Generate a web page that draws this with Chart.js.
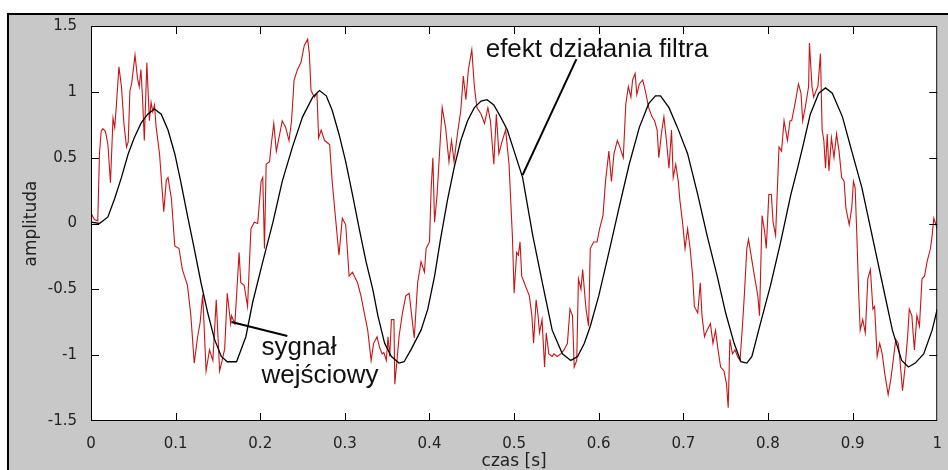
<!DOCTYPE html>
<html lang="pl">
<head>
<meta charset="UTF-8" />
<title>Sygnał wejściowy i efekt działania filtra</title>
<style>
  html, body { margin: 0; padding: 0; background: #fff; }
  #wrap { position: relative; width: 948px; height: 470px; overflow: hidden; }
  canvas { display: block; }
</style>
</head>
<body>
<div id="wrap"><canvas id="chart" width="948" height="470"></canvas></div>
<script src="https://cdn.jsdelivr.net/npm/chart.js"></script>
<script>
  // sygnał wejściowy (czerwony) - czas [s] i amplituda
  const redT = [
    0.000, 0.004, 0.008, 0.010, 0.012, 0.014, 0.017, 0.020, 0.023, 0.026, 0.028, 0.030, 0.033, 0.036, 0.039,
    0.042, 0.044, 0.046, 0.048, 0.052, 0.055, 0.057, 0.059, 0.061, 0.063, 0.066, 0.069, 0.071, 0.073, 0.075,
    0.077, 0.081, 0.083, 0.086, 0.089, 0.091, 0.095, 0.099, 0.104, 0.108, 0.114, 0.118, 0.122, 0.126, 0.129,
    0.132, 0.136, 0.140, 0.144, 0.148, 0.152, 0.155, 0.158, 0.161, 0.165,
    0.166, 0.170, 0.172, 0.175, 0.177, 0.181, 0.185, 0.189, 0.193, 0.197, 0.201, 0.203, 0.205, 0.207, 0.211,
    0.213, 0.216, 0.219, 0.223, 0.226, 0.230, 0.234, 0.237, 0.240, 0.244, 0.248, 0.252, 0.256, 0.258, 0.260,
    0.264, 0.267, 0.269, 0.272, 0.276, 0.282, 0.285, 0.289, 0.293, 0.297, 0.301, 0.305, 0.309, 0.315, 0.319,
    0.323, 0.327, 0.331, 0.334,
    0.338, 0.341, 0.344, 0.346, 0.349, 0.351, 0.353, 0.355, 0.358, 0.359, 0.362, 0.364, 0.368, 0.372, 0.376,
    0.380, 0.382, 0.386, 0.390, 0.394, 0.396, 0.400, 0.402, 0.404, 0.406, 0.409, 0.412, 0.415, 0.419, 0.423,
    0.426, 0.429, 0.433, 0.437, 0.440, 0.443, 0.446, 0.450, 0.453, 0.456, 0.461, 0.465, 0.469, 0.472, 0.476,
    0.479, 0.482, 0.486, 0.490, 0.494, 0.498, 0.500,
    0.503, 0.505, 0.507, 0.509, 0.512, 0.515, 0.518, 0.521, 0.523, 0.526, 0.528, 0.530, 0.533, 0.536, 0.538,
    0.541, 0.545, 0.547, 0.551, 0.555, 0.559, 0.563, 0.566, 0.569, 0.571, 0.574, 0.576, 0.579, 0.581, 0.585,
    0.588, 0.590, 0.594, 0.598, 0.601, 0.605, 0.608, 0.612, 0.615, 0.618, 0.622, 0.625, 0.629, 0.632, 0.635,
    0.638, 0.640, 0.643, 0.645, 0.648, 0.652, 0.655, 0.659, 0.663,
    0.666, 0.669, 0.671, 0.674, 0.677, 0.680, 0.683, 0.686, 0.688, 0.691, 0.694, 0.696, 0.699, 0.702, 0.705,
    0.708, 0.711, 0.713, 0.717, 0.720, 0.722, 0.725, 0.728, 0.732, 0.735, 0.738, 0.741, 0.744, 0.748, 0.751,
    0.753, 0.755, 0.758, 0.761, 0.764, 0.767, 0.770, 0.772, 0.775, 0.777, 0.780, 0.784, 0.788, 0.790, 0.793,
    0.796, 0.798, 0.801, 0.804, 0.806, 0.809, 0.813, 0.816, 0.819, 0.823, 0.826, 0.828, 0.832,
    0.836, 0.839, 0.841, 0.844, 0.848, 0.849, 0.852, 0.854, 0.857, 0.859, 0.862, 0.864, 0.866, 0.868, 0.870,
    0.872, 0.875, 0.878, 0.881, 0.884, 0.887, 0.890, 0.892, 0.896, 0.899, 0.901, 0.903, 0.905, 0.907, 0.909,
    0.912, 0.915, 0.918, 0.921, 0.924, 0.926, 0.929, 0.932, 0.935, 0.938, 0.942, 0.945, 0.947, 0.951, 0.954,
    0.956, 0.959, 0.962, 0.965, 0.967, 0.970, 0.973, 0.976, 0.979, 0.982, 0.985, 0.988, 0.992, 0.994, 0.996,
    0.998, 1.000
  ];
  const redV = [
    0.08, 0.03, 0.02, 0.53, 0.70, 0.72, 0.70, 0.60, 0.31, 0.80, 0.73, 0.90, 1.19, 1.04, 0.75,
    0.58, 0.62, 1.01, 1.06, 1.28, 1.10, 1.04, 1.17, 0.94, 0.63, 1.22, 0.78, 0.92, 0.85, 0.90,
    0.73, 0.53, 0.35, 0.09, 0.33, 0.35, 0.19, -0.17, -0.19, -0.35, -0.47, -0.70, -1.06, -0.86, -0.75,
    -0.54, -1.12, -0.96, -1.04, -0.58, -1.12, -1.04, -0.95, -0.53, -0.76,
    -0.70, -0.76, -0.55, -0.22, -0.45, -0.47, -0.63, -0.04, 0.01, 0.00, 0.32, 0.35, -0.19, 0.45, 0.47,
    0.60, 0.76, 0.55, 0.68, 0.78, 0.73, 0.63, 0.78, 1.09, 1.17, 1.22, 1.35, 1.40, 1.29, 1.01,
    0.96, 0.99, 0.65, 0.71, 0.63, 0.60, 0.32, 0.04, -0.24, 0.04, -0.01, -0.40, -0.37, -0.45, -0.55,
    -0.68, -0.81, -1.04, -0.91,
    -0.86, -0.94, -0.99, -0.98, -1.04, -0.86, -1.01, -0.73, -0.73, -1.22, -1.01, -0.86, -0.68, -0.55, -0.53,
    -0.76, -0.87, -0.45, -0.29, -0.37, -0.19, -0.14, 0.27, 0.50, 0.01, 0.22, 0.55, 0.88, 0.73, 0.47,
    0.63, 0.47, 0.68, 0.86, 1.12, 0.94, 1.17, 1.32, 1.04, 0.88, 0.83, 0.76, 0.88, 0.78, 0.45,
    0.83, 0.53, 0.63, 0.71, 0.45, -0.10, -0.53,
    -0.22, -0.24, -0.14, -0.40, -0.45, -0.50, -0.55, -0.70, -0.91, -0.58, -0.68, -0.83, -0.73, -1.09, -0.83,
    -0.99, -1.01, -0.99, -1.01, -0.99, -0.96, -0.91, -0.65, -0.70, -1.09, -1.04, -0.42, -0.50, -0.35, -0.65,
    -0.78, -0.19, -0.14, -0.14, -0.04, 0.06, 0.32, 0.55, 0.32, 0.53, 0.63, 0.58, 0.50, 0.91, 1.04,
    0.96, 1.09, 1.14, 0.98, 1.06, 1.09, 1.01, 0.88, 0.81,
    0.78, 0.71, 0.50, 0.68, 0.81, 0.63, 0.42, 0.71, 0.35, 0.45, 0.32, 0.17, 0.01, -0.19, -0.04,
    -0.19, -0.40, -0.63, -0.68, -0.45, -0.70, -0.86, -0.81, -0.76, -0.91, -0.81, -0.96, -1.09, -1.12, -1.22,
    -1.40, -0.88, -0.99, -0.96, -1.01, -1.04, -0.76, -0.55, -0.19, -0.12, -0.24, -0.40, -0.55, -0.70, 0.06,
    -0.06, -0.19, 0.22, 0.22, 0.01, -0.09, 0.58, 0.55, 0.78, 0.63, 0.78, 0.78, 0.91,
    1.06, 0.99, 0.78, 0.88, 1.04, 1.37, 1.04, 0.96, 1.01, 1.04, 1.29, 0.71, 0.63, 0.42, 0.68,
    0.40, 0.65, 0.50, 0.68, 0.55, 0.35, 0.32, 0.12, -0.01, 0.12, 0.32, 0.27, -0.09, -0.50, -0.81,
    -0.73, -0.83, -0.42, -0.35, -0.65, -0.63, -1.01, -0.91, -0.99, -1.14, -1.30, -1.19, -1.09, -0.88, -0.91,
    -1.04, -1.27, -1.09, -0.86, -0.65, -0.70, -0.96, -0.70, -0.78, -0.42, -0.40, -0.29, -0.19, -0.09, 0.04,
    0.00, -0.04
  ];

  // efekt działania filtra (czarny)
  const filtT = [
    0.000, 0.010, 0.020, 0.028, 0.036, 0.044, 0.051, 0.059, 0.067, 0.075, 0.083, 0.091, 0.099, 0.106, 0.114,
    0.122, 0.130, 0.138, 0.146, 0.154, 0.161, 0.172, 0.183, 0.191, 0.203, 0.215, 0.226, 0.238, 0.250, 0.262,
    0.270, 0.278, 0.285, 0.293, 0.301, 0.309, 0.317, 0.325, 0.333, 0.339, 0.347, 0.355, 0.364, 0.370, 0.378,
    0.390, 0.398, 0.406, 0.413, 0.421, 0.429, 0.437, 0.445, 0.453, 0.461, 0.468, 0.476, 0.484, 0.492, 0.500,
    0.510, 0.522, 0.534, 0.545, 0.557, 0.567, 0.575, 0.583, 0.590, 0.600, 0.612, 0.624, 0.636, 0.648, 0.659,
    0.667, 0.673, 0.683, 0.693, 0.705, 0.717, 0.728, 0.740, 0.750, 0.760, 0.768, 0.775, 0.781, 0.791, 0.803,
    0.815, 0.827, 0.835, 0.841, 0.850, 0.860, 0.868, 0.876, 0.888, 0.899, 0.911, 0.923, 0.935, 0.947, 0.958,
    0.966, 0.974, 0.984, 0.994, 1.000
  ];
  const filtV = [
    0.01, 0.00, 0.05, 0.19, 0.35, 0.53, 0.65, 0.76, 0.83, 0.87, 0.83, 0.71, 0.53, 0.32, 0.06,
    -0.19, -0.45, -0.68, -0.88, -1.01, -1.05, -1.05, -0.86, -0.60, -0.29, 0.01, 0.32, 0.58, 0.81, 0.96,
    1.01, 0.97, 0.86, 0.68, 0.47, 0.22, -0.04, -0.29, -0.50, -0.70, -0.91, -1.01, -1.06, -1.05, -0.96,
    -0.81, -0.65, -0.40, -0.12, 0.17, 0.42, 0.63, 0.78, 0.88, 0.93, 0.94, 0.90, 0.81, 0.71, 0.55,
    0.35, -0.09, -0.47, -0.81, -0.99, -1.04, -1.01, -0.91, -0.78, -0.55, -0.22, 0.12, 0.45, 0.73, 0.91,
    0.97, 0.97, 0.88, 0.73, 0.53, 0.22, -0.09, -0.40, -0.68, -0.91, -1.05, -1.06, -1.01, -0.76, -0.47,
    -0.14, 0.22, 0.42, 0.58, 0.83, 0.99, 1.03, 0.99, 0.81, 0.55, 0.27, -0.09, -0.45, -0.81, -1.04,
    -1.09, -1.06, -0.99, -0.81, -0.65
  ];

  const xTicks = [0, 0.1, 0.2, 0.3, 0.4, 0.5, 0.6, 0.7, 0.8, 0.9, 1];
  const yTicks = [-1.5, -1, -0.5, 0, 0.5, 1, 1.5];

  // opisy: tekst, punkt zaczepienia tekstu, odcinek wskazujący (w jednostkach osi)
  const noteTexts = [["efekt działania filtra"], ["sygnał", "wejściowy"]];
  const noteAt = [[0.4664, 1.264], [0.2014, -0.998]];
  const noteLineFrom = [[0.5736, 1.249], [0.166, -0.748]];
  const noteLineTo = [[0.510, 0.368], [0.232, -0.854]];

  const filtPts = filtT.map((t, i) => ({ x: t, y: filtV[i] }));
  const redPts = redT.map((t, i) => ({ x: t, y: redV[i] }));

  const figure = {
    id: 'figure',
    beforeDraw(chart) {
      const { ctx, chartArea: a, width, height } = chart;
      ctx.save();
      ctx.fillStyle = '#fff';
      ctx.fillRect(0, 0, width, height);
      ctx.fillStyle = '#c8c8c8';
      ctx.fillRect(9, 15, width - 9, height - 15);
      ctx.fillStyle = '#000';
      ctx.fillRect(7, 13, width - 7, 2);
      ctx.fillRect(7, 13, 2, height - 13);
      ctx.fillStyle = '#fff';
      ctx.fillRect(a.left, a.top, a.right - a.left, a.bottom - a.top);
      ctx.restore();
    },
    afterDatasetsDraw(chart) {
      const { ctx, chartArea: a } = chart;
      const xs = chart.scales.x, ys = chart.scales.y;
      const tl = 8;
      ctx.save();
      ctx.strokeStyle = '#000';
      ctx.lineWidth = 1;
      ctx.strokeRect(a.left + 0.5, a.top + 0.5, a.right - a.left - 1, a.bottom - a.top - 1);
      ctx.beginPath();
      xTicks.slice(1, -1).forEach(v => {
        const px = Math.round(xs.getPixelForValue(v)) + 0.5;
        ctx.moveTo(px, a.bottom); ctx.lineTo(px, a.bottom - tl);
        ctx.moveTo(px, a.top); ctx.lineTo(px, a.top + tl);
      });
      yTicks.slice(1, -1).forEach(v => {
        const py = Math.round(ys.getPixelForValue(v)) + 0.5;
        ctx.moveTo(a.left, py); ctx.lineTo(a.left + tl, py);
        ctx.moveTo(a.right, py); ctx.lineTo(a.right - tl, py);
      });
      ctx.stroke();

      // linie wskazujące i opisy
      ctx.lineWidth = 2;
      ctx.beginPath();
      noteLineFrom.forEach((p, i) => {
        ctx.moveTo(xs.getPixelForValue(p[0]), ys.getPixelForValue(p[1]));
        ctx.lineTo(xs.getPixelForValue(noteLineTo[i][0]), ys.getPixelForValue(noteLineTo[i][1]));
      });
      ctx.stroke();
      ctx.fillStyle = '#111';
      ctx.font = '26px "Liberation Sans", Arial, sans-serif';
      ctx.textBaseline = 'alphabetic';
      noteTexts.forEach((lines, i) => {
        const x = xs.getPixelForValue(noteAt[i][0]);
        const y = ys.getPixelForValue(noteAt[i][1]);
        lines.forEach((s, k) => ctx.fillText(s, x, y + k * 28));
      });
      ctx.restore();
    }
  };

  const tickFont = { family: 'DejaVu Sans', size: 15 };
  const titleFont = { family: 'DejaVu Sans', size: 17, lineHeight: 1 };

  new Chart(document.getElementById('chart'), {
    type: 'line',
    data: {
      datasets: [
        { label: 'efekt działania filtra', data: filtPts, borderColor: '#000', borderWidth: 1.3, pointRadius: 0, tension: 0 },
        { label: 'sygnał wejściowy', data: redPts, borderColor: '#c81414', borderWidth: 1.1, pointRadius: 0, tension: 0 }
      ]
    },
    options: {
      responsive: false,
      animation: false,
      devicePixelRatio: 1,
      layout: { padding: { left: 0, top: 26, right: 8, bottom: 0 } },
      plugins: { legend: { display: false }, tooltip: { enabled: false } },
      scales: {
        x: {
          type: 'linear', min: 0, max: 1,
          grid: { display: false }, border: { display: false },
          afterBuildTicks: s => { s.ticks = xTicks.map(v => ({ value: v })); },
          afterFit: s => { s.height = 49; },
          ticks: { padding: 6, color: '#222', font: tickFont, maxRotation: 0, autoSkip: false, callback: v => String(v) },
          title: { display: true, text: 'czas [s]', color: '#222', font: titleFont, padding: { top: 0, bottom: 0 } }
        },
        y: {
          type: 'linear', min: -1.5, max: 1.5,
          grid: { display: false }, border: { display: false },
          afterBuildTicks: s => { s.ticks = yTicks.map(v => ({ value: v })); },
          afterFit: s => { s.width = 91; },
          ticks: { padding: 6, color: '#222', font: tickFont, autoSkip: false, callback: v => String(v) },
          title: { display: true, text: 'amplituda', color: '#222', font: titleFont, padding: { top: 23, bottom: 0 } }
        }
      }
    },
    plugins: [figure]
  });
</script>
</body>
</html>
